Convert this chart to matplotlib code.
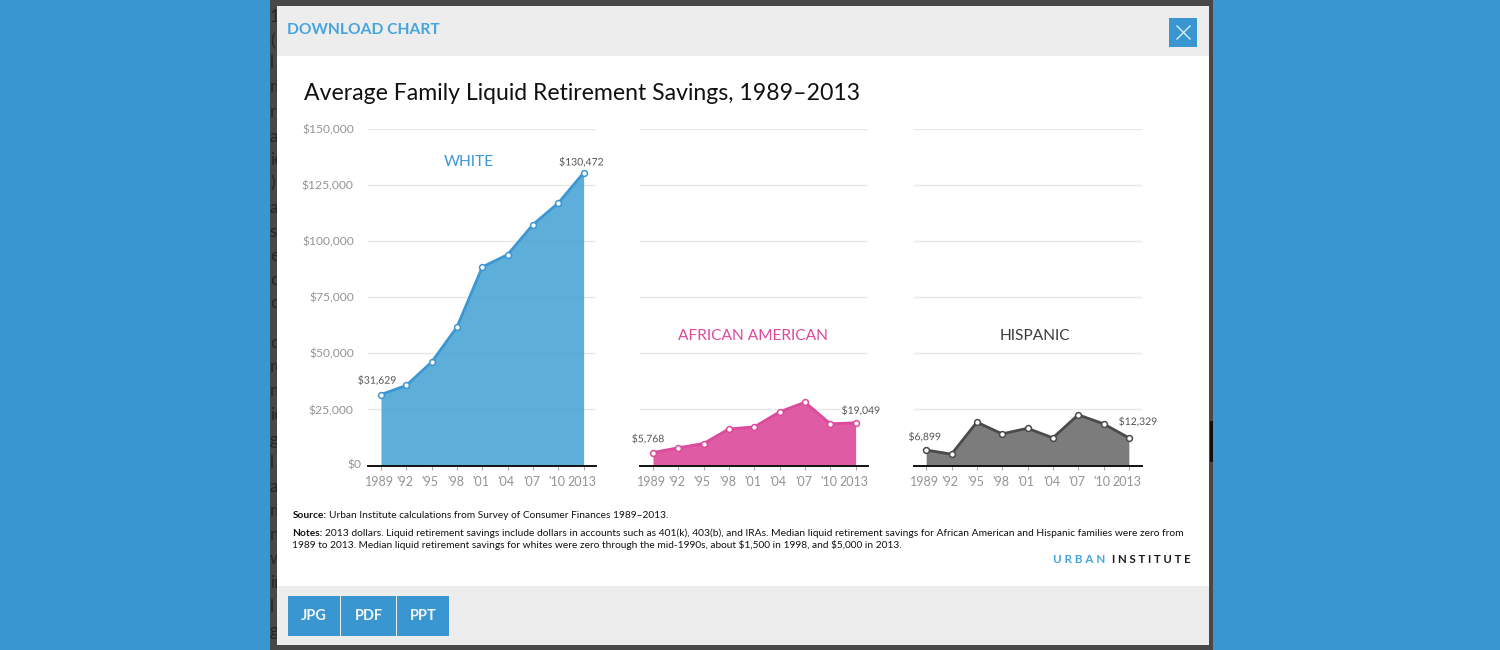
import matplotlib
matplotlib.use("Agg")
import matplotlib.pyplot as plt
import matplotlib.patheffects as pe
from matplotlib.patches import Rectangle
from matplotlib.transforms import ScaledTranslation

plt.rcParams['font.family'] = ['Lato', 'DejaVu Sans']
plt.rcParams['text.parse_math'] = False

W, H = 1500, 650
tick_labels = ['1989', "'92", "'95", "'98", "'01", "'04", "'07", "'10", '2013']
y_ticks = [0, 25000, 50000, 75000, 100000, 125000, 150000]
y_tick_labels = ['$0', '$25,000', '$50,000', '$75,000', '$100,000', '$125,000', '$150,000']

white = [31629, 35700, 46100, 61700, 88500, 94000, 107400, 117000, 130472]
african_american = [5768, 7900, 9800, 16300, 17200, 23900, 28200, 18600, 19049]
hispanic = [6899, 5050, 19300, 14100, 16600, 12300, 22600, 18600, 12329]

# slivers of the page text showing behind the modal
page_bits = ['1', '(', 'l', 'ri', 'r', 'a', 'ie', ')', 'ai', 's l', 'er', 'c', 'c',
             'd', 're', 'n', 'ie', 'g', 'l', 'a', 'ri', 'n', 'w', 'ir', 'l', 'g']
page_bit_y = [17, 41, 63, 87, 112, 137, 160, 183, 208, 232, 256, 280, 303,
              343, 367, 391, 415, 440, 463, 487, 511, 535, 559, 583, 607, 631]

fig = plt.figure(figsize=(W / 100, H / 100), dpi=100, facecolor='#3a96d0')
bg = fig.add_axes([0, 0, 1, 1])
bg.set_xlim(0, W)
bg.set_ylim(H, 0)
bg.axis('off')

def rect(x0, y0, x1, y1, c, z=1):
    bg.add_patch(Rectangle((x0, y0), x1 - x0, y1 - y0, fc=c, ec='none', zorder=z))

def txt(x, y, s, size, c, ha='left', weight='normal', va='center', z=5):
    return bg.text(x, y, s, fontsize=size * 0.72, color=c, ha=ha, va=va, fontweight=weight, zorder=z)

# page frame and modal
rect(270, 0, 1213, 650, '#484848')
for s, y in zip(page_bits, page_bit_y):
    txt(270, y, s, 17, '#262626', z=1.5)
rect(1210, 421, 1213, 462, '#111111', 1.5)
rect(277, 6, 1209, 645, '#ffffff', 2)
rect(277, 6, 1209, 55.5, '#ededed', 3)
rect(277, 586, 1209, 645, '#ededed', 3)

txt(287, 29.5, 'DOWNLOAD CHART', 15.6, '#45a5dc', weight='bold')
rect(1169, 18, 1197, 47, '#3a96d0', 4)
bg.plot([1177, 1190], [26, 39], color='#dcefff', lw=1.0, zorder=5)
bg.plot([1177, 1190], [39, 26], color='#dcefff', lw=1.0, zorder=5)

txt(304.5, 94, 'Average Family Liquid Retirement Savings, 1989\u20132013', 23.0, '#111111')

# panels: first and last point labels carry their offsets in pixels from the point
panels = [
    (368.3, white, 'WHITE', 469, 161.5, '#3b97d3', '#4ba6d6',
     ('$31,629', -4, 13.5), ('$130,472', -2.5, 10)),
    (640.3, african_american, 'AFRICAN AMERICAN', 753, 336.5, '#dc4a9b', '#dc4a9b',
     ('$5,768', -5, 13), ('$19,049', 5, 11.5)),
    (913.5, hispanic, 'HISPANIC', 1035, 336.5, '#4a4a4a', '#6e6e6e',
     ('$6,899', -1.5, 12.5), ('$12,329', 9, 15.5)),
]
top, bottom = 129.0, 465.5
width = 228.0
for i, (left, vals, name, nx, ny, line, fill, l0, l1) in enumerate(panels):
    ax = fig.add_axes([left / W, 1 - bottom / H, width / W, (bottom - top) / H])
    ax.patch.set_alpha(0)
    ax.set_xlim(-0.5, 8.5)
    ax.set_ylim(0, 150000)
    xs = list(range(len(vals)))
    ax.set_yticks(y_ticks)
    ax.grid(axis='y', color='#e8e8e8', lw=1.0, zorder=0)
    ax.set_axisbelow(True)
    ax.fill_between(xs, vals, 0, color=fill, alpha=0.9, lw=0, zorder=2)
    ax.plot(xs, vals, color=line, lw=2.0, zorder=3, solid_joinstyle='miter')
    ax.plot(xs, vals, ls='none', marker='o', ms=4.2, mfc='white', mec=line, mew=1.1, zorder=4)
    for s in ('top', 'left', 'right'):
        ax.spines[s].set_visible(False)
    ax.spines['bottom'].set_color('#111111')
    ax.spines['bottom'].set_linewidth(1.4)
    ax.spines['bottom'].set_zorder(5)
    ax.set_xticks(xs)
    ax.set_xticklabels(tick_labels, fontsize=9.0, color='#949494')
    ax.tick_params(axis='x', length=3, width=0.8, color='#aaaaaa', pad=4.2)
    shift = ScaledTranslation(-1.5 / 100, 0, fig.dpi_scale_trans)
    for lab in ax.get_xticklabels():
        lab.set_transform(lab.get_transform() + shift)
    if i == 0:
        ax.set_yticklabels(y_tick_labels, fontsize=8.7, color='#949494')
        ax.tick_params(axis='y', length=0, pad=10.5)
        lab0 = ax.get_yticklabels()[0]
        lab0.set_transform(lab0.get_transform() + ScaledTranslation(8 / 100, 1 / 100, fig.dpi_scale_trans))
    else:
        ax.tick_params(axis='y', length=0, labelleft=False)
    for idx, (s, dx, dy) in ((0, l0), (8, l1)):
        ax.annotate(s, (idx, vals[idx]), xytext=(dx * 0.72, dy * 0.72), textcoords='offset points',
                    ha='center', va='center', fontsize=10.4 * 0.72, color='#555555',
                    annotation_clip=False, zorder=6,
                    path_effects=[pe.withStroke(linewidth=2.5, foreground='white')])
    txt(nx, ny, name, 15.5, line if i != 2 else '#3c3c3c', ha='center')

# footer
fs = 10.17
txt(292.5, 516, 'Source:', fs, '#111111', weight='bold')
txt(329, 516, 'Urban Institute calculations from Survey of Consumer Finances 1989\u20132013.', fs, '#111111')
txt(292.5, 533.5, 'Notes:', fs, '#111111', weight='bold')
txt(325, 533.5, '2013 dollars. Liquid retirement savings include dollars in accounts such as 401(k), 403(b), and IRAs. Median liquid retirement savings for African American and Hispanic families were zero from', 10.2, '#111111')
txt(292.5, 545.5, '1989 to 2013. Median liquid retirement savings for whites were zero through the mid-1990s, about $1,500 in 1998, and $5,000 in 2013.', 10.14, '#111111')
txt(1053, 559.5, 'U R B A N', 11.6, '#45a5dc', weight='bold')
txt(1191, 559.5, 'I N S T I T U T E', 11.4, '#1a1a1a', ha='right', weight='bold')

# buttons
for x0, x1, s in ((288, 340, 'JPG'), (341, 396, 'PDF'), (397, 449, 'PPT')):
    rect(x0, 596, x1, 636, '#3a96d0', 4)
    txt((x0 + x1) / 2, 616.5, s, 14.5, '#eef6fb', ha='center', weight='bold')

fig.savefig('out.png', dpi=100, facecolor=fig.get_facecolor())
